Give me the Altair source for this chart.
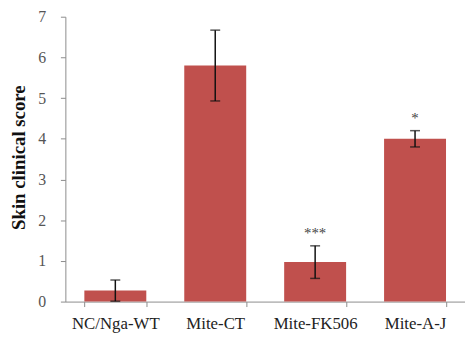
import altair as alt
import pandas as pd

categories = ["NC/Nga-WT", "Mite-CT", "Mite-FK506", "Mite-A-J"]
means = [0.27, 5.8, 0.97, 4.0]
errors = [0.26, 0.87, 0.40, 0.20]
sig = ["", "", "***", "*"]

df = pd.DataFrame({
    "group": categories,
    "mean": means,
    "err": errors,
    "sig": sig,
})
df["lo"] = df["mean"] - df["err"]
df["hi"] = df["mean"] + df["err"]

FONT = "Liberation Serif"

x = alt.X(
    "group:N",
    sort=categories,
    scale=alt.Scale(paddingInner=0.38, paddingOuter=0.19),
    axis=alt.Axis(
        title=None,
        labelAngle=0,
        labelFont=FONT,
        labelFontSize=17,
        labelColor="#222222",
        labelPadding=9,
        domainColor="#8c8c8c",
        tickColor="#8c8c8c",
        tickSize=5,
        tickBand="extent",
        domainWidth=1,
    ),
)

y_axis = alt.Axis(
    title="Skin clinical score",
    titleFont=FONT,
    titleFontSize=19,
    titleFontWeight="bold",
    titleColor="#111111",
    titleX=-37,
    titleY=142,
    titleAngle=-90,
    titleBaseline="bottom",
    titleAlign="center",
    labelFont=FONT,
    labelFontSize=16,
    labelColor="#555555",
    labelPadding=15,
    values=[0, 1, 2, 3, 4, 5, 6, 7],
    grid=False,
    domainColor="#8c8c8c",
    tickColor="#8c8c8c",
    tickSize=5,
)

base = alt.Chart(df).encode(x=x)

bars = base.mark_bar(color="#C0504D").encode(
    y=alt.Y("mean:Q", scale=alt.Scale(domain=[0, 7], nice=False), axis=y_axis)
)

rules = base.mark_rule(color="#111111", strokeWidth=1.5).encode(
    y="lo:Q", y2="hi:Q"
)

caps_hi = base.mark_tick(color="#111111", thickness=1.5, size=10).encode(y="hi:Q")
caps_lo = base.mark_tick(color="#111111", thickness=1.5, size=10).encode(y="lo:Q")

stars = base.mark_text(
    font=FONT, fontSize=15, color="#444444", baseline="bottom", dy=-5
).encode(y="hi:Q", text="sig:N")

chart = (
    alt.layer(bars, rules, caps_hi, caps_lo, stars)
    .properties(
        width=404,
        height=288,
        autosize=alt.AutoSizeParams(type="none"),
        padding={"left": 58, "top": 7, "right": 0, "bottom": 35},
    )
    .configure_view(stroke=None)
)

chart.save("out.html", embed_options={"renderer": "svg", "actions": False})
